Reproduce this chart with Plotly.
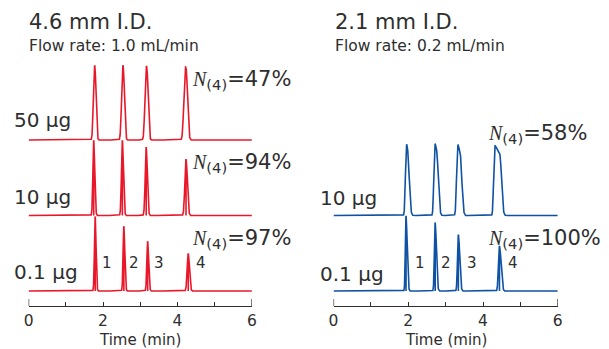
import numpy as np
import plotly.graph_objects as go

# ---------------- data ----------------
time_min = np.linspace(0, 6, 3001)

# Left panel: 4.6 mm I.D., 1.0 mL/min
left_loads = ["0.1 µg", "10 µg", "50 µg"]
left_n4 = ["97%", "94%", "47%"]
L01_rt = [1.79, 2.56, 3.20, 4.29]
L01_h = [0.99, 0.86, 0.66, 0.50]
L01_sl = [0.020, 0.020, 0.022, 0.028]
L01_sr = [0.022, 0.024, 0.026, 0.032]
L01_pl = [0.0, 0.0, 0.0, 0.0]
L01_dr = [0.0, 0.0, 0.0, 0.0]

L10_rt = [1.75, 2.52, 3.16, 4.23]
L10_h = [1.00, 1.00, 0.91, 0.75]
L10_sl = [0.022, 0.024, 0.026, 0.030]
L10_sr = [0.026, 0.028, 0.030, 0.035]
L10_pl = [0.0, 0.0, 0.0, 0.0]
L10_dr = [0.0, 0.0, 0.0, 0.0]

L50_rt = [1.765, 2.525, 3.155, 4.205]
L50_h = [1.02, 1.02, 1.00, 0.98]
L50_sl = [0.024, 0.026, 0.028, 0.032]
L50_sr = [0.026, 0.028, 0.030, 0.035]
L50_pl = [0.02, 0.02, 0.025, 0.03]
L50_dr = [0.02, 0.02, 0.02, 0.02]

# Right panel: 2.1 mm I.D., 0.2 mL/min
right_loads = ["0.1 µg", "10 µg"]
right_n4 = ["100%", "58%"]
R01_rt = [1.94, 2.72, 3.34, 4.44]
R01_h = [1.00, 0.91, 0.75, 0.60]
R01_sl = [0.018, 0.020, 0.022, 0.026]
R01_sr = [0.030, 0.032, 0.035, 0.040]
R01_pl = [0.0, 0.0, 0.0, 0.0]
R01_dr = [0.0, 0.0, 0.0, 0.0]

R10_rt = [1.945, 2.705, 3.315, 4.305]
R10_h = [0.99, 0.99, 0.97, 0.94]
R10_sl = [0.020, 0.020, 0.022, 0.020]
R10_sr = [0.040, 0.040, 0.040, 0.042]
R10_pl = [0.035, 0.055, 0.075, 0.145]
R10_dr = [0.10, 0.12, 0.14, 0.12]

peak_labels = ["1", "2", "3", "4"]
x_ticks = [0, 1, 2, 3, 4, 5, 6]
x_ticktext = ["0", "", "2", "", "4", "", "6"]

RED = "#e8182a"
BLUE = "#0f52a3"
TXT = "#2e2e2e"
W, H = 609, 349


def chromatogram(rt, h, sl, sr, pl, dr):
    t = time_min
    dt = t[1] - t[0]
    k = np.arange(-40, 41) * dt
    kern = np.exp(-0.5 * (k / 0.012) ** 2)
    kern /= kern.sum()
    y = np.zeros_like(t)
    for c, hh, a, b, p, d in zip(rt, h, sl, sr, pl, dr):
        s = np.zeros_like(t)
        left = t < c
        s[left] = hh * np.exp(-0.5 * ((t[left] - c) / a) ** 2)
        if p > 0:
            mid = (t >= c) & (t <= c + p)
            s[mid] = hh * (1 - d * (t[mid] - c) / p)
        right = t > c + p
        s[right] = hh * (1 - d) * np.exp(-0.5 * ((t[right] - c - p) / b) ** 2)
        if p > 0:
            s = np.convolve(s, kern, mode="same")
        y += s
    return y


fig = go.Figure()
left_sets = [
    (L01_rt, L01_h, L01_sl, L01_sr, L01_pl, L01_dr),
    (L10_rt, L10_h, L10_sl, L10_sr, L10_pl, L10_dr),
    (L50_rt, L50_h, L50_sl, L50_sr, L50_pl, L50_dr),
]
right_sets = [
    (R01_rt, R01_h, R01_sl, R01_sr, R01_pl, R01_dr),
    (R10_rt, R10_h, R10_sl, R10_sr, R10_pl, R10_dr),
]
for i, p in enumerate(left_sets):
    fig.add_trace(go.Scatter(x=time_min, y=chromatogram(*p) + i, mode="lines",
                             line=dict(color=RED, width=1.6), xaxis="x", yaxis="y",
                             showlegend=False, hoverinfo="skip"))
for i, p in enumerate(right_sets):
    fig.add_trace(go.Scatter(x=time_min, y=chromatogram(*p) + i, mode="lines",
                             line=dict(color=BLUE, width=1.6), xaxis="x2", yaxis="y",
                             showlegend=False, hoverinfo="skip"))


def px(x):
    return x / W


def py(y):
    return 1 - y / H


axis_y = 306
unit = 75.5
base0 = 291
yr = [-(H - base0) / unit, base0 / unit]

xax = dict(range=[0, 6], anchor="free", position=py(axis_y), showline=True,
           linecolor=TXT, linewidth=1.2, ticks="inside", ticklen=4, tickwidth=1.2,
           tickcolor=TXT, tickvals=x_ticks, ticktext=x_ticktext,
           tickfont=dict(family="DejaVu Sans", size=15.5, color=TXT),
           showgrid=False, zeroline=False, fixedrange=True)
fig.update_layout(
    width=W, height=H, margin=dict(l=0, r=0, t=0, b=0),
    paper_bgcolor="white", plot_bgcolor="white",
    xaxis=dict(domain=[px(24), px(251)], **xax),
    xaxis2=dict(domain=[px(334), px(562)], **xax),
    yaxis=dict(range=yr, domain=[0, 1], visible=False, fixedrange=True),
)

for xr in ["x", "x2"]:
    for xv in [0, 6]:
        fig.add_shape(type="line", xref=xr, yref="paper", x0=xv, x1=xv,
                      y0=py(axis_y), y1=py(axis_y - 7), line=dict(color=TXT, width=1.2))

F = "DejaVu Sans"


def txt(x, y, s, size, xanchor="left"):
    fig.add_annotation(x=px(x), y=py(y), xref="paper", yref="paper", text=s,
                       showarrow=False, xanchor=xanchor, yanchor="middle",
                       font=dict(family=F, size=size, color=TXT))


def n4(p):
    return ('<span style="font-family:Liberation Serif;font-style:italic;font-size:20px">N</span>'
            '<sub>(4)</sub>=' + p)


txt(22, 22, "4.6 mm I.D.", 21)
txt(22, 46, "Flow rate: 1.0 mL/min", 15.5)
txt(333, 22, "2.1 mm I.D.", 21)
txt(333, 46, "Flow rate: 0.2 mL/min", 15.5)

for lab, yc in zip(left_loads, [272, 197, 120]):
    txt(7, yc, lab, 20)
for lab, yc in zip(right_loads, [273.5, 198]):
    txt(318, yc, lab, 20)

for val, yc in zip(left_n4, [235.5, 160, 76.5]):
    txt(188, yc + 3, n4(val), 21)
for val, yc in zip(right_n4, [235.5, 131]):
    txt(489, yc + 3, n4(val), 21)

for lab, xc in zip(peak_labels, [104, 130.7, 157, 199.3]):
    txt(xc, 263, lab, 15, xanchor="center")
for lab, xc in zip(peak_labels, [421.7, 448.3, 475, 516.7]):
    txt(xc, 263, lab, 15, xanchor="center")

txt(137.5, 340, "Time (min)", 15, xanchor="center")
txt(448, 340, "Time (min)", 15, xanchor="center")

fig.write_html("out.html")
